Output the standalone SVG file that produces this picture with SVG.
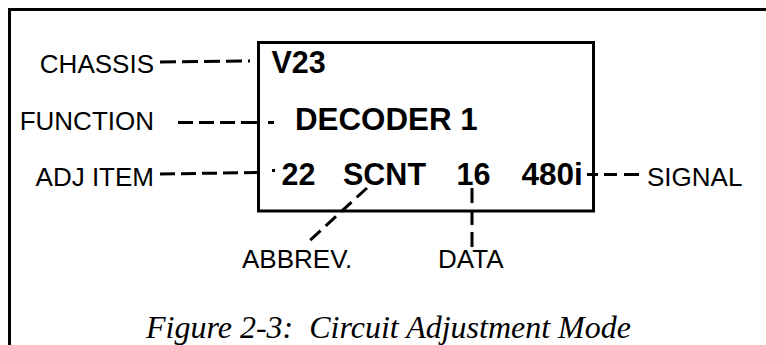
<svg xmlns="http://www.w3.org/2000/svg" width="766" height="345" viewBox="0 0 766 345">
<style>
.lbl{font-family:"Liberation Sans",Arial,sans-serif;font-size:26px;fill:#000}
.val{font-family:"Liberation Sans",Arial,sans-serif;font-size:30.5px;font-weight:bold;fill:#000}
.cap{font-family:"Liberation Serif","Times New Roman",serif;font-size:32px;font-style:italic;fill:#000}
.frame{fill:none;stroke:#000;stroke-width:3}
.dash{fill:none;stroke:#000;stroke-width:3;stroke-dasharray:15 6}
</style>
<rect width="766" height="345" fill="#fff"/>
<g id="frame">
<path class="frame" d="M9.5,345 V9.5 H766"/>
</g>
<g id="display">
<rect class="frame" x="258.5" y="42.5" width="335" height="168.5"/>
<text class="val" x="271.5" y="73">V23</text>
<text class="val" x="295" y="130" style="font-size:31.3px">DECODER 1</text>
<text class="val" x="281.5" y="185">22</text>
<text class="val" x="343" y="185">SCNT</text>
<text class="val" x="456.5" y="185">16</text>
<text class="val" x="521.5" y="185" style="font-size:31.5px">480i</text>
</g>
<g id="chassis"><text class="lbl" x="154" y="73" text-anchor="end">CHASSIS</text></g>
<g id="function"><text class="lbl" x="154" y="130" text-anchor="end">FUNCTION</text></g>
<g id="adj-item"><text class="lbl" x="154" y="186" text-anchor="end">ADJ ITEM</text></g>
<g id="signal"><text class="lbl" x="647" y="186">SIGNAL</text></g>
<g id="abbrev"><text class="lbl" x="242" y="268">ABBREV.</text></g>
<g id="data"><text class="lbl" x="438" y="268">DATA</text></g>
<g id="connectors">
<path class="dash" style="stroke-dasharray:16 6" d="M160,62 L250,61"/>
<path class="dash" style="stroke-dasharray:15 6 15 6 15 6 18 9 6" d="M178,122.5 H274"/>
<path class="dash" d="M160,174 L259,172.5"/>
<path class="dash" d="M272,170.5 L275,170.5"/>
<path class="dash" style="stroke-dasharray:11 6 13 7 15" d="M587,174.5 H641"/>
<path class="dash" style="stroke-dasharray:14 7" d="M367,188 L307,243"/>
<path class="dash" style="stroke-dasharray:15 7" d="M472,188 V247"/>
</g>
<g id="caption">
<text class="cap" x="146" y="338" xml:space="preserve">Figure 2-3:  Circuit Adjustment Mode</text>
</g>
</svg>
